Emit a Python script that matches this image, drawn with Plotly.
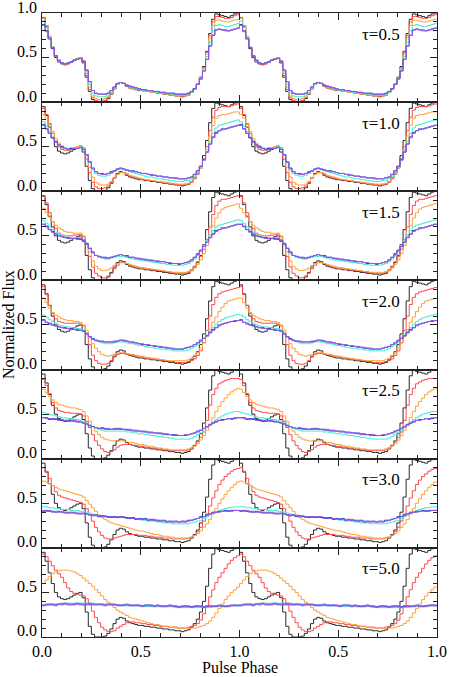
"""
Scattered pulse profiles for increasing optical depth - seven stacked panels.
"""

import plotly.graph_objects as go

# ── Data (64 phase bins per cycle, shown twice) ────────────────────────────────
TAUS = ["0.5", "1.0", "1.5", "2.0", "2.5", "3.0", "5.0"]

BLACK = [
    0.95, 0.85, 0.72, 0.60, 0.50, 0.45, 0.43, 0.42,
    0.43, 0.45, 0.47, 0.49, 0.50, 0.44, 0.28, 0.12,
    0.03, 0.00, 0.00, 0.00, 0.01, 0.04, 0.09, 0.15,
    0.20, 0.22, 0.21, 0.18, 0.16, 0.15, 0.14, 0.13,
    0.13, 0.12, 0.12, 0.11, 0.11, 0.10, 0.10, 0.09,
    0.09, 0.08, 0.08, 0.07, 0.07, 0.06, 0.07, 0.08,
    0.11, 0.15, 0.20, 0.28, 0.40, 0.57, 0.77, 0.93,
    0.99, 0.98, 0.97, 0.96, 0.95, 0.97, 0.99, 1.00,
]

# tau = 0.5
RED_05 = [
    0.95, 0.86, 0.73, 0.61, 0.51, 0.46, 0.43, 0.42,
    0.43, 0.45, 0.47, 0.49, 0.50, 0.45, 0.30, 0.14,
    0.05, 0.02, 0.01, 0.01, 0.02, 0.05, 0.09, 0.15,
    0.20, 0.22, 0.21, 0.18, 0.16, 0.15, 0.14, 0.13,
    0.13, 0.12, 0.12, 0.11, 0.11, 0.10, 0.10, 0.09,
    0.09, 0.08, 0.08, 0.07, 0.07, 0.07, 0.07, 0.08,
    0.11, 0.15, 0.20, 0.28, 0.39, 0.56, 0.75, 0.90,
    0.96, 0.96, 0.95, 0.94, 0.94, 0.95, 0.97, 0.98,
]
ORANGE_05 = [
    0.94, 0.86, 0.74, 0.62, 0.52, 0.46, 0.44, 0.43,
    0.43, 0.45, 0.47, 0.49, 0.50, 0.46, 0.32, 0.17,
    0.07, 0.04, 0.03, 0.03, 0.04, 0.06, 0.10, 0.15,
    0.20, 0.22, 0.21, 0.19, 0.17, 0.15, 0.14, 0.14,
    0.13, 0.12, 0.12, 0.11, 0.11, 0.10, 0.10, 0.09,
    0.09, 0.08, 0.08, 0.07, 0.07, 0.07, 0.07, 0.08,
    0.11, 0.15, 0.20, 0.27, 0.38, 0.54, 0.72, 0.86,
    0.92, 0.92, 0.91, 0.90, 0.90, 0.91, 0.92, 0.93,
]
CYAN_05 = [
    0.91, 0.84, 0.73, 0.62, 0.52, 0.47, 0.44, 0.43,
    0.44, 0.45, 0.47, 0.48, 0.49, 0.46, 0.34, 0.20,
    0.10, 0.07, 0.06, 0.06, 0.06, 0.08, 0.11, 0.16,
    0.20, 0.22, 0.21, 0.19, 0.17, 0.16, 0.15, 0.14,
    0.13, 0.13, 0.12, 0.12, 0.11, 0.11, 0.10, 0.10,
    0.09, 0.09, 0.08, 0.08, 0.08, 0.08, 0.08, 0.09,
    0.11, 0.15, 0.20, 0.27, 0.37, 0.51, 0.67, 0.80,
    0.86, 0.87, 0.86, 0.85, 0.85, 0.86, 0.87, 0.88,
]
BLUE_05 = [
    0.87, 0.80, 0.71, 0.61, 0.52, 0.47, 0.44, 0.43,
    0.44, 0.45, 0.47, 0.48, 0.49, 0.46, 0.36, 0.23,
    0.13, 0.10, 0.09, 0.09, 0.09, 0.10, 0.13, 0.17,
    0.21, 0.22, 0.21, 0.19, 0.18, 0.17, 0.16, 0.15,
    0.14, 0.14, 0.13, 0.13, 0.12, 0.12, 0.11, 0.11,
    0.10, 0.10, 0.10, 0.09, 0.09, 0.09, 0.09, 0.10,
    0.12, 0.15, 0.20, 0.26, 0.35, 0.48, 0.63, 0.75,
    0.81, 0.82, 0.81, 0.81, 0.80, 0.81, 0.82, 0.83,
]
PURPLE_05 = [
    0.86, 0.79, 0.71, 0.61, 0.52, 0.47, 0.44, 0.43,
    0.44, 0.45, 0.47, 0.48, 0.49, 0.46, 0.36, 0.23,
    0.13, 0.10, 0.09, 0.09, 0.09, 0.10, 0.13, 0.17,
    0.21, 0.22, 0.21, 0.19, 0.18, 0.17, 0.16, 0.15,
    0.14, 0.14, 0.13, 0.13, 0.12, 0.12, 0.11, 0.11,
    0.10, 0.10, 0.10, 0.09, 0.09, 0.09, 0.09, 0.10,
    0.12, 0.15, 0.20, 0.26, 0.35, 0.48, 0.63, 0.75,
    0.81, 0.82, 0.81, 0.80, 0.80, 0.81, 0.82, 0.83,
]

# tau = 1.0
RED_10 = [
    0.93, 0.86, 0.76, 0.65, 0.56, 0.50, 0.47, 0.46,
    0.46, 0.47, 0.48, 0.50, 0.51, 0.48, 0.36, 0.21,
    0.10, 0.05, 0.03, 0.03, 0.04, 0.06, 0.10, 0.15,
    0.19, 0.21, 0.21, 0.19, 0.17, 0.16, 0.15, 0.14,
    0.13, 0.13, 0.12, 0.12, 0.11, 0.11, 0.10, 0.10,
    0.09, 0.09, 0.08, 0.08, 0.07, 0.07, 0.08, 0.08,
    0.10, 0.14, 0.19, 0.26, 0.36, 0.50, 0.68, 0.83,
    0.91, 0.94, 0.95, 0.95, 0.95, 0.96, 0.97, 0.98,
]
ORANGE_10 = [
    0.86, 0.82, 0.75, 0.67, 0.59, 0.54, 0.51, 0.49,
    0.48, 0.49, 0.49, 0.50, 0.51, 0.49, 0.40, 0.27,
    0.16, 0.10, 0.08, 0.07, 0.07, 0.08, 0.11, 0.15,
    0.19, 0.21, 0.21, 0.20, 0.18, 0.17, 0.16, 0.15,
    0.14, 0.13, 0.13, 0.12, 0.12, 0.11, 0.11, 0.10,
    0.10, 0.09, 0.09, 0.08, 0.08, 0.08, 0.08, 0.09,
    0.11, 0.15, 0.20, 0.26, 0.35, 0.47, 0.62, 0.74,
    0.82, 0.85, 0.86, 0.86, 0.87, 0.88, 0.89, 0.89,
]
CYAN_10 = [
    0.78, 0.73, 0.67, 0.61, 0.56, 0.52, 0.50, 0.48,
    0.48, 0.48, 0.49, 0.49, 0.50, 0.48, 0.41, 0.32,
    0.24, 0.20, 0.18, 0.17, 0.17, 0.18, 0.20, 0.22,
    0.24, 0.25, 0.24, 0.23, 0.22, 0.21, 0.20, 0.19,
    0.18, 0.17, 0.16, 0.16, 0.15, 0.14, 0.14, 0.13,
    0.13, 0.12, 0.12, 0.11, 0.11, 0.11, 0.12, 0.12,
    0.14, 0.17, 0.21, 0.27, 0.35, 0.45, 0.56, 0.65,
    0.71, 0.74, 0.75, 0.76, 0.77, 0.78, 0.79, 0.80,
]
BLUE_10 = [
    0.75, 0.70, 0.65, 0.60, 0.56, 0.52, 0.50, 0.48,
    0.47, 0.48, 0.48, 0.48, 0.49, 0.47, 0.41, 0.33,
    0.26, 0.22, 0.20, 0.20, 0.19, 0.20, 0.22, 0.23,
    0.25, 0.26, 0.25, 0.24, 0.23, 0.23, 0.22, 0.21,
    0.20, 0.20, 0.19, 0.18, 0.18, 0.17, 0.17, 0.16,
    0.16, 0.15, 0.15, 0.15, 0.14, 0.14, 0.14, 0.15,
    0.16, 0.19, 0.23, 0.28, 0.36, 0.44, 0.53, 0.61,
    0.66, 0.68, 0.70, 0.70, 0.71, 0.72, 0.73, 0.74,
]
PURPLE_10 = [
    0.74, 0.70, 0.65, 0.60, 0.55, 0.52, 0.49, 0.48,
    0.47, 0.47, 0.48, 0.48, 0.49, 0.47, 0.41, 0.33,
    0.26, 0.22, 0.20, 0.19, 0.19, 0.20, 0.21, 0.23,
    0.25, 0.26, 0.25, 0.24, 0.23, 0.22, 0.22, 0.21,
    0.20, 0.20, 0.19, 0.19, 0.18, 0.17, 0.17, 0.16,
    0.16, 0.15, 0.15, 0.14, 0.14, 0.14, 0.14, 0.15,
    0.16, 0.19, 0.23, 0.28, 0.35, 0.44, 0.53, 0.60,
    0.65, 0.68, 0.69, 0.70, 0.71, 0.72, 0.73, 0.74,
]

# tau = 1.5
RED_15 = [
    0.94, 0.87, 0.76, 0.66, 0.58, 0.53, 0.51, 0.50,
    0.50, 0.50, 0.51, 0.51, 0.52, 0.49, 0.40, 0.27,
    0.15, 0.08, 0.05, 0.03, 0.03, 0.05, 0.08, 0.13,
    0.17, 0.20, 0.20, 0.19, 0.17, 0.16, 0.15, 0.14,
    0.14, 0.13, 0.13, 0.12, 0.12, 0.11, 0.11, 0.10,
    0.10, 0.09, 0.09, 0.08, 0.08, 0.08, 0.08, 0.09,
    0.12, 0.16, 0.21, 0.27, 0.35, 0.46, 0.60, 0.74,
    0.84, 0.89, 0.91, 0.91, 0.92, 0.93, 0.94, 0.95,
]
ORANGE_15 = [
    0.81, 0.76, 0.71, 0.66, 0.62, 0.59, 0.57, 0.55,
    0.54, 0.54, 0.53, 0.53, 0.53, 0.50, 0.42, 0.32,
    0.22, 0.16, 0.13, 0.11, 0.11, 0.12, 0.14, 0.17,
    0.19, 0.20, 0.20, 0.19, 0.18, 0.17, 0.16, 0.15,
    0.14, 0.14, 0.13, 0.13, 0.12, 0.12, 0.11, 0.11,
    0.10, 0.10, 0.09, 0.09, 0.09, 0.09, 0.09, 0.10,
    0.11, 0.14, 0.18, 0.23, 0.30, 0.39, 0.50, 0.61,
    0.70, 0.76, 0.80, 0.82, 0.83, 0.84, 0.85, 0.86,
]
CYAN_15 = [
    0.67, 0.64, 0.60, 0.57, 0.54, 0.52, 0.50, 0.49,
    0.48, 0.48, 0.48, 0.48, 0.48, 0.46, 0.42, 0.36,
    0.31, 0.28, 0.26, 0.25, 0.24, 0.24, 0.25, 0.26,
    0.27, 0.27, 0.27, 0.26, 0.25, 0.24, 0.23, 0.23,
    0.22, 0.22, 0.21, 0.21, 0.20, 0.20, 0.19, 0.19,
    0.18, 0.18, 0.17, 0.17, 0.17, 0.17, 0.18, 0.19,
    0.21, 0.24, 0.28, 0.33, 0.39, 0.45, 0.51, 0.56,
    0.60, 0.62, 0.63, 0.64, 0.65, 0.66, 0.67, 0.68,
]
BLUE_15 = [
    0.63, 0.61, 0.57, 0.55, 0.52, 0.50, 0.49, 0.48,
    0.48, 0.47, 0.47, 0.47, 0.46, 0.45, 0.41, 0.36,
    0.32, 0.28, 0.27, 0.26, 0.26, 0.25, 0.26, 0.27,
    0.28, 0.29, 0.28, 0.28, 0.26, 0.26, 0.25, 0.24,
    0.24, 0.23, 0.23, 0.22, 0.22, 0.21, 0.21, 0.21,
    0.20, 0.19, 0.19, 0.19, 0.18, 0.19, 0.20, 0.21,
    0.23, 0.26, 0.30, 0.34, 0.38, 0.43, 0.48, 0.52,
    0.56, 0.57, 0.59, 0.59, 0.60, 0.61, 0.62, 0.63,
]
PURPLE_15 = [
    0.63, 0.60, 0.57, 0.54, 0.52, 0.50, 0.49, 0.48,
    0.47, 0.47, 0.47, 0.46, 0.47, 0.45, 0.41, 0.36,
    0.31, 0.28, 0.27, 0.26, 0.25, 0.25, 0.26, 0.27,
    0.28, 0.29, 0.28, 0.27, 0.26, 0.26, 0.25, 0.25,
    0.24, 0.24, 0.23, 0.23, 0.22, 0.22, 0.21, 0.21,
    0.20, 0.20, 0.19, 0.19, 0.19, 0.19, 0.20, 0.21,
    0.23, 0.26, 0.29, 0.33, 0.38, 0.43, 0.48, 0.52,
    0.55, 0.57, 0.58, 0.59, 0.60, 0.61, 0.62, 0.63,
]

# tau = 2.0
RED_20 = [
    0.93, 0.84, 0.72, 0.63, 0.57, 0.54, 0.53, 0.52,
    0.52, 0.52, 0.52, 0.52, 0.51, 0.49, 0.41, 0.28,
    0.16, 0.10, 0.07, 0.06, 0.06, 0.07, 0.10, 0.14,
    0.17, 0.18, 0.18, 0.17, 0.17, 0.16, 0.15, 0.15,
    0.14, 0.13, 0.13, 0.12, 0.12, 0.11, 0.11, 0.10,
    0.10, 0.09, 0.09, 0.08, 0.08, 0.08, 0.08, 0.09,
    0.10, 0.12, 0.16, 0.21, 0.30, 0.44, 0.60, 0.73,
    0.81, 0.85, 0.87, 0.88, 0.89, 0.90, 0.91, 0.92,
]
ORANGE_20 = [
    0.80, 0.75, 0.69, 0.64, 0.61, 0.59, 0.57, 0.56,
    0.55, 0.55, 0.54, 0.54, 0.53, 0.50, 0.44, 0.36,
    0.29, 0.24, 0.20, 0.17, 0.16, 0.15, 0.16, 0.17,
    0.18, 0.19, 0.19, 0.18, 0.17, 0.17, 0.16, 0.15,
    0.15, 0.14, 0.13, 0.13, 0.12, 0.12, 0.11, 0.11,
    0.10, 0.10, 0.10, 0.10, 0.10, 0.10, 0.10, 0.11,
    0.13, 0.16, 0.19, 0.24, 0.30, 0.37, 0.45, 0.53,
    0.59, 0.65, 0.70, 0.74, 0.77, 0.78, 0.79, 0.80,
]
CYAN_20 = [
    0.61, 0.59, 0.56, 0.54, 0.52, 0.50, 0.49, 0.48,
    0.48, 0.47, 0.47, 0.46, 0.46, 0.44, 0.41, 0.37,
    0.34, 0.32, 0.31, 0.30, 0.29, 0.29, 0.29, 0.30,
    0.31, 0.31, 0.31, 0.30, 0.29, 0.29, 0.28, 0.27,
    0.27, 0.26, 0.25, 0.25, 0.24, 0.24, 0.23, 0.23,
    0.22, 0.22, 0.21, 0.21, 0.21, 0.21, 0.21, 0.22,
    0.24, 0.26, 0.28, 0.31, 0.35, 0.39, 0.43, 0.47,
    0.51, 0.54, 0.56, 0.58, 0.59, 0.60, 0.61, 0.62,
]
BLUE_20 = [
    0.56, 0.53, 0.52, 0.50, 0.49, 0.48, 0.47, 0.47,
    0.46, 0.46, 0.45, 0.44, 0.44, 0.43, 0.40, 0.37,
    0.35, 0.33, 0.32, 0.32, 0.31, 0.31, 0.31, 0.31,
    0.32, 0.33, 0.33, 0.32, 0.31, 0.31, 0.30, 0.29,
    0.28, 0.28, 0.27, 0.27, 0.26, 0.26, 0.25, 0.25,
    0.24, 0.24, 0.23, 0.23, 0.23, 0.23, 0.24, 0.25,
    0.26, 0.28, 0.30, 0.33, 0.35, 0.38, 0.42, 0.45,
    0.47, 0.50, 0.51, 0.52, 0.53, 0.54, 0.54, 0.55,
]
PURPLE_20 = [
    0.55, 0.53, 0.51, 0.50, 0.49, 0.48, 0.47, 0.46,
    0.46, 0.45, 0.45, 0.45, 0.44, 0.43, 0.40, 0.37,
    0.34, 0.33, 0.32, 0.31, 0.31, 0.31, 0.31, 0.32,
    0.32, 0.33, 0.32, 0.32, 0.31, 0.30, 0.30, 0.29,
    0.29, 0.28, 0.28, 0.27, 0.27, 0.26, 0.26, 0.25,
    0.25, 0.24, 0.24, 0.23, 0.23, 0.23, 0.24, 0.25,
    0.26, 0.28, 0.30, 0.32, 0.35, 0.38, 0.41, 0.44,
    0.47, 0.49, 0.51, 0.52, 0.53, 0.54, 0.55, 0.55,
]

# tau = 2.5
RED_25 = [
    0.89, 0.82, 0.73, 0.63, 0.57, 0.54, 0.53, 0.52,
    0.52, 0.51, 0.51, 0.51, 0.50, 0.48, 0.42, 0.35,
    0.27, 0.20, 0.15, 0.11, 0.08, 0.07, 0.08, 0.10,
    0.13, 0.15, 0.16, 0.16, 0.16, 0.15, 0.15, 0.14,
    0.14, 0.13, 0.13, 0.12, 0.12, 0.11, 0.11, 0.10,
    0.10, 0.09, 0.09, 0.09, 0.09, 0.09, 0.09, 0.10,
    0.12, 0.15, 0.19, 0.24, 0.30, 0.43, 0.60, 0.72,
    0.79, 0.84, 0.86, 0.88, 0.89, 0.90, 0.90, 0.90,
]
ORANGE_25 = [
    0.78, 0.74, 0.70, 0.66, 0.63, 0.61, 0.60, 0.59,
    0.58, 0.57, 0.57, 0.56, 0.55, 0.53, 0.48, 0.42,
    0.36, 0.31, 0.27, 0.24, 0.22, 0.21, 0.20, 0.20,
    0.20, 0.20, 0.20, 0.19, 0.18, 0.18, 0.17, 0.16,
    0.16, 0.15, 0.14, 0.14, 0.13, 0.12, 0.12, 0.11,
    0.11, 0.10, 0.10, 0.10, 0.10, 0.10, 0.10, 0.11,
    0.12, 0.14, 0.17, 0.21, 0.26, 0.32, 0.39, 0.46,
    0.53, 0.59, 0.64, 0.68, 0.72, 0.75, 0.77, 0.79,
]
CYAN_25 = [
    0.52, 0.51, 0.50, 0.49, 0.48, 0.47, 0.46, 0.46,
    0.45, 0.45, 0.44, 0.44, 0.43, 0.42, 0.40, 0.38,
    0.36, 0.34, 0.33, 0.32, 0.31, 0.31, 0.31, 0.31,
    0.31, 0.31, 0.31, 0.30, 0.30, 0.29, 0.29, 0.28,
    0.28, 0.27, 0.27, 0.26, 0.26, 0.25, 0.25, 0.24,
    0.24, 0.23, 0.23, 0.22, 0.22, 0.22, 0.22, 0.22,
    0.23, 0.25, 0.27, 0.29, 0.32, 0.35, 0.38, 0.41,
    0.44, 0.46, 0.48, 0.50, 0.51, 0.52, 0.53, 0.53,
]
BLUE_25 = [
    0.46, 0.46, 0.44, 0.45, 0.44, 0.44, 0.43, 0.43,
    0.42, 0.43, 0.42, 0.42, 0.41, 0.40, 0.39, 0.37,
    0.36, 0.35, 0.34, 0.34, 0.34, 0.33, 0.33, 0.33,
    0.34, 0.33, 0.33, 0.33, 0.32, 0.32, 0.31, 0.31,
    0.31, 0.30, 0.30, 0.29, 0.29, 0.29, 0.28, 0.28,
    0.27, 0.27, 0.27, 0.26, 0.26, 0.26, 0.26, 0.27,
    0.28, 0.29, 0.31, 0.32, 0.34, 0.36, 0.38, 0.40,
    0.42, 0.43, 0.44, 0.44, 0.45, 0.45, 0.45, 0.46,
]
PURPLE_25 = [
    0.46, 0.45, 0.45, 0.44, 0.45, 0.43, 0.44, 0.43,
    0.43, 0.42, 0.43, 0.41, 0.41, 0.40, 0.39, 0.37,
    0.36, 0.35, 0.34, 0.35, 0.33, 0.34, 0.33, 0.34,
    0.33, 0.34, 0.33, 0.32, 0.33, 0.31, 0.32, 0.31,
    0.30, 0.31, 0.29, 0.30, 0.29, 0.28, 0.29, 0.27,
    0.28, 0.27, 0.26, 0.27, 0.26, 0.26, 0.27, 0.27,
    0.28, 0.29, 0.30, 0.32, 0.34, 0.36, 0.38, 0.40,
    0.41, 0.43, 0.43, 0.44, 0.45, 0.44, 0.46, 0.46,
]

# tau = 3.0
RED_30 = [
    0.90, 0.86, 0.78, 0.70, 0.63, 0.59, 0.57, 0.56,
    0.55, 0.54, 0.53, 0.52, 0.51, 0.49, 0.44, 0.37,
    0.30, 0.23, 0.18, 0.14, 0.11, 0.10, 0.10, 0.11,
    0.12, 0.13, 0.14, 0.15, 0.15, 0.15, 0.15, 0.14,
    0.14, 0.14, 0.13, 0.13, 0.12, 0.12, 0.12, 0.11,
    0.11, 0.11, 0.10, 0.10, 0.10, 0.10, 0.10, 0.11,
    0.12, 0.14, 0.18, 0.23, 0.30, 0.38, 0.47, 0.56,
    0.64, 0.71, 0.76, 0.80, 0.83, 0.86, 0.88, 0.89,
]
ORANGE_30 = [
    0.75, 0.74, 0.72, 0.70, 0.68, 0.66, 0.65, 0.64,
    0.63, 0.62, 0.61, 0.60, 0.59, 0.57, 0.53, 0.49,
    0.45, 0.41, 0.37, 0.34, 0.32, 0.30, 0.28, 0.27,
    0.26, 0.25, 0.24, 0.23, 0.22, 0.21, 0.20, 0.19,
    0.19, 0.18, 0.17, 0.16, 0.15, 0.15, 0.14, 0.13,
    0.13, 0.12, 0.12, 0.11, 0.11, 0.11, 0.11, 0.11,
    0.12, 0.14, 0.16, 0.19, 0.23, 0.27, 0.32, 0.38,
    0.44, 0.50, 0.55, 0.60, 0.64, 0.68, 0.71, 0.74,
]
CYAN_30 = [
    0.46, 0.46, 0.45, 0.45, 0.44, 0.44, 0.43, 0.43,
    0.43, 0.42, 0.42, 0.42, 0.41, 0.41, 0.40, 0.39,
    0.38, 0.37, 0.36, 0.36, 0.35, 0.35, 0.35, 0.34,
    0.34, 0.34, 0.34, 0.33, 0.33, 0.33, 0.32, 0.32,
    0.31, 0.31, 0.30, 0.30, 0.30, 0.29, 0.29, 0.28,
    0.28, 0.28, 0.27, 0.27, 0.27, 0.27, 0.27, 0.27,
    0.28, 0.29, 0.30, 0.31, 0.33, 0.35, 0.37, 0.39,
    0.40, 0.42, 0.43, 0.44, 0.45, 0.45, 0.46, 0.46,
]
BLUE_30 = [
    0.41, 0.42, 0.41, 0.41, 0.40, 0.41, 0.40, 0.40,
    0.39, 0.40, 0.39, 0.39, 0.38, 0.39, 0.38, 0.37,
    0.36, 0.37, 0.35, 0.36, 0.35, 0.35, 0.34, 0.35,
    0.34, 0.35, 0.34, 0.34, 0.33, 0.34, 0.32, 0.33,
    0.32, 0.33, 0.31, 0.32, 0.31, 0.31, 0.30, 0.31,
    0.29, 0.30, 0.29, 0.30, 0.29, 0.30, 0.29, 0.31,
    0.31, 0.32, 0.33, 0.35, 0.35, 0.37, 0.38, 0.40,
    0.40, 0.41, 0.41, 0.42, 0.41, 0.42, 0.42, 0.42,
]
PURPLE_30 = [
    0.42, 0.41, 0.42, 0.40, 0.41, 0.40, 0.41, 0.39,
    0.40, 0.39, 0.40, 0.38, 0.39, 0.38, 0.38, 0.37,
    0.37, 0.36, 0.36, 0.35, 0.36, 0.34, 0.35, 0.34,
    0.35, 0.34, 0.35, 0.33, 0.34, 0.33, 0.33, 0.32,
    0.33, 0.32, 0.32, 0.31, 0.32, 0.30, 0.31, 0.30,
    0.30, 0.29, 0.30, 0.29, 0.29, 0.29, 0.30, 0.30,
    0.31, 0.32, 0.33, 0.34, 0.35, 0.36, 0.38, 0.39,
    0.40, 0.40, 0.41, 0.41, 0.42, 0.41, 0.42, 0.42,
]

# tau = 5.0
RED_50 = [
    0.93, 0.90, 0.85, 0.80, 0.75, 0.71, 0.67, 0.61,
    0.55, 0.51, 0.49, 0.48, 0.47, 0.46, 0.43, 0.36,
    0.29, 0.22, 0.16, 0.11, 0.08, 0.06, 0.06, 0.07,
    0.10, 0.12, 0.14, 0.16, 0.17, 0.17, 0.16, 0.16,
    0.15, 0.15, 0.14, 0.14, 0.13, 0.13, 0.12, 0.12,
    0.12, 0.11, 0.11, 0.11, 0.10, 0.10, 0.10, 0.11,
    0.12, 0.13, 0.15, 0.19, 0.26, 0.35, 0.45, 0.53,
    0.61, 0.67, 0.72, 0.77, 0.82, 0.86, 0.89, 0.91,
]
ORANGE_50 = [
    0.60, 0.64, 0.68, 0.71, 0.73, 0.74, 0.75, 0.75,
    0.75, 0.74, 0.73, 0.71, 0.69, 0.66, 0.63, 0.60,
    0.57, 0.53, 0.50, 0.46, 0.42, 0.39, 0.36, 0.33,
    0.30, 0.28, 0.26, 0.24, 0.22, 0.21, 0.20, 0.19,
    0.18, 0.17, 0.16, 0.15, 0.14, 0.14, 0.13, 0.12,
    0.12, 0.11, 0.11, 0.10, 0.10, 0.10, 0.10, 0.10,
    0.10, 0.10, 0.11, 0.12, 0.13, 0.15, 0.18, 0.22,
    0.27, 0.32, 0.37, 0.42, 0.46, 0.50, 0.53, 0.56,
]
CYAN_50 = [
    0.35, 0.36, 0.36, 0.37, 0.37, 0.37, 0.38, 0.38,
    0.38, 0.38, 0.38, 0.38, 0.38, 0.38, 0.38, 0.38,
    0.38, 0.37, 0.37, 0.37, 0.37, 0.37, 0.36, 0.36,
    0.36, 0.36, 0.36, 0.35, 0.35, 0.35, 0.35, 0.35,
    0.35, 0.34, 0.34, 0.34, 0.34, 0.34, 0.34, 0.34,
    0.34, 0.34, 0.34, 0.33, 0.33, 0.33, 0.33, 0.33,
    0.33, 0.33, 0.33, 0.33, 0.33, 0.33, 0.33, 0.34,
    0.34, 0.34, 0.34, 0.34, 0.35, 0.35, 0.35, 0.35,
]
BLUE_50 = [
    0.36, 0.36, 0.37, 0.36, 0.36, 0.37, 0.37, 0.37,
    0.37, 0.36, 0.37, 0.37, 0.37, 0.36, 0.37, 0.37,
    0.37, 0.36, 0.37, 0.36, 0.36, 0.36, 0.37, 0.36,
    0.36, 0.35, 0.36, 0.36, 0.36, 0.35, 0.36, 0.35,
    0.35, 0.35, 0.36, 0.35, 0.35, 0.35, 0.35, 0.34,
    0.35, 0.35, 0.35, 0.34, 0.34, 0.34, 0.35, 0.34,
    0.34, 0.34, 0.35, 0.34, 0.34, 0.34, 0.35, 0.34,
    0.35, 0.35, 0.35, 0.34, 0.35, 0.35, 0.36, 0.35,
]
PURPLE_50 = [
    0.35, 0.37, 0.36, 0.37, 0.35, 0.37, 0.36, 0.38,
    0.36, 0.37, 0.36, 0.38, 0.36, 0.37, 0.36, 0.38,
    0.36, 0.37, 0.36, 0.37, 0.35, 0.37, 0.36, 0.37,
    0.35, 0.36, 0.35, 0.37, 0.35, 0.36, 0.35, 0.36,
    0.34, 0.36, 0.35, 0.36, 0.34, 0.36, 0.34, 0.35,
    0.34, 0.36, 0.34, 0.35, 0.33, 0.35, 0.34, 0.35,
    0.33, 0.35, 0.34, 0.35, 0.33, 0.35, 0.34, 0.35,
    0.34, 0.36, 0.34, 0.35, 0.34, 0.36, 0.35, 0.36,
]

# ── Styling ────────────────────────────────────────────────────────────────────
FONT = "Liberation Serif"
AXIS_COLOR = "#222222"
LINE_COLORS = {
    "black": "#2a2a2a",
    "red": "#ff4a4a",
    "orange": "#ffa238",
    "cyan": "#3cf0cc",
    "blue": "#3a3ad0",
    "purple": "#9558e6",
}

PANELS = [
    {"red": RED_05, "orange": ORANGE_05, "cyan": CYAN_05, "blue": BLUE_05, "purple": PURPLE_05},
    {"red": RED_10, "orange": ORANGE_10, "cyan": CYAN_10, "blue": BLUE_10, "purple": PURPLE_10},
    {"red": RED_15, "orange": ORANGE_15, "cyan": CYAN_15, "blue": BLUE_15, "purple": PURPLE_15},
    {"red": RED_20, "orange": ORANGE_20, "cyan": CYAN_20, "blue": BLUE_20, "purple": PURPLE_20},
    {"red": RED_25, "orange": ORANGE_25, "cyan": CYAN_25, "blue": BLUE_25, "purple": PURPLE_25},
    {"red": RED_30, "orange": ORANGE_30, "cyan": CYAN_30, "blue": BLUE_30, "purple": PURPLE_30},
    {"red": RED_50, "orange": ORANGE_50, "cyan": CYAN_50, "blue": BLUE_50, "purple": PURPLE_50},
]

N_BINS = len(BLACK)
N_PANELS = len(PANELS)

# two cycles of bin edges, last edge closes the final step
PHASE = [i / N_BINS for i in range(2 * N_BINS)] + [2.0]


def _two_cycles(vals):
    return vals + vals + [vals[-1]]


fig = go.Figure()

for k, series in enumerate(PANELS):
    sfx = "" if k == 0 else str(k + 1)
    curves = [("black", BLACK)] + [(c, series[c]) for c in ("red", "orange", "cyan", "blue", "purple")]
    for name, vals in curves:
        fig.add_trace(
            go.Scatter(
                x=PHASE,
                y=_two_cycles(vals),
                mode="lines",
                line=dict(color=LINE_COLORS[name], width=1, shape="hv"),
                xaxis="x" + sfx,
                yaxis="y" + sfx,
                hoverinfo="skip",
                showlegend=False,
            )
        )

# ── Axes: seven stacked panels sharing frame lines ─────────────────────────────
minor_ticks = dict(tickmode="linear", tick0=0, dtick=0.1, ticks="inside",
                   ticklen=4, tickcolor=AXIS_COLOR)
layout_axes = {}
annotations = []
for k in range(N_PANELS):
    sfx = "" if k == 0 else str(k + 1)
    top = 1 - k / N_PANELS
    bottom = 1 - (k + 1) / N_PANELS
    last = k == N_PANELS - 1

    layout_axes["xaxis" + sfx] = dict(
        domain=[0, 1],
        anchor="y" + sfx,
        range=[0, 2],
        tickvals=[0, 0.5, 1.0, 1.5, 2.0],
        ticktext=["0.0", "0.5", "1.0", "0.5", "1.0"],
        showticklabels=last,
        ticks="inside",
        ticklen=7,
        tickcolor=AXIS_COLOR,
        minor=minor_ticks,
        showline=True,
        linecolor=AXIS_COLOR,
        linewidth=1,
        mirror="ticks",
        showgrid=False,
        zeroline=False,
        tickfont=dict(family=FONT, size=16, color="black"),
    )
    layout_axes["yaxis" + sfx] = dict(
        domain=[bottom, top],
        anchor="x" + sfx,
        range=[0, 1],
        tickvals=[0, 0.5, 1.0],
        showticklabels=False,
        ticks="inside",
        ticklen=7,
        tickcolor=AXIS_COLOR,
        minor=minor_ticks,
        showline=True,
        linecolor=AXIS_COLOR,
        linewidth=1,
        mirror="ticks",
        showgrid=False,
        zeroline=False,
    )

    # y labels sit a little above their ticks, as in the original;
    # only the top panel carries the 1.0 label
    for v in ([0.0, 0.5, 1.0] if k == 0 else [0.0, 0.5]):
        annotations.append(
            dict(
                x=0, y=v, xref="paper", yref="y" + sfx, text=f"{v:.1f}",
                showarrow=False, xanchor="right", yanchor="middle",
                xshift=-3, yshift=6,
                font=dict(family=FONT, size=16, color="black"),
            )
        )

for k, tau in enumerate(TAUS):
    annotations.append(
        dict(
            x=0.805, y=1 - k / N_PANELS, xref="paper", yref="paper",
            text=f"\u03c4={tau}", showarrow=False,
            xanchor="left", yanchor="middle", yshift=-21,
            font=dict(family=FONT, size=17, color="black"),
        )
    )

annotations.append(
    dict(
        x=0.5, y=0, xref="paper", yref="paper", text="Pulse Phase",
        showarrow=False, xanchor="center", yanchor="middle", yshift=-30,
        font=dict(family=FONT, size=16, color="black"),
    )
)
annotations.append(
    dict(
        x=0, y=0.5, xref="paper", yref="paper", text="Normalized Flux",
        showarrow=False, textangle=-90, xanchor="center", yanchor="middle",
        xshift=-34, font=dict(family=FONT, size=16, color="black"),
    )
)

fig.update_layout(
    width=461,
    height=677,
    margin=dict(l=42, r=24, t=13, b=40),
    plot_bgcolor="white",
    paper_bgcolor="white",
    annotations=annotations,
    **layout_axes,
)

# drop the browser's default body margin so the figure sits at the page corner
fig.write_html(
    "out.html",
    config={"displayModeBar": False},
    post_script="document.body.style.margin = '0';",
)
